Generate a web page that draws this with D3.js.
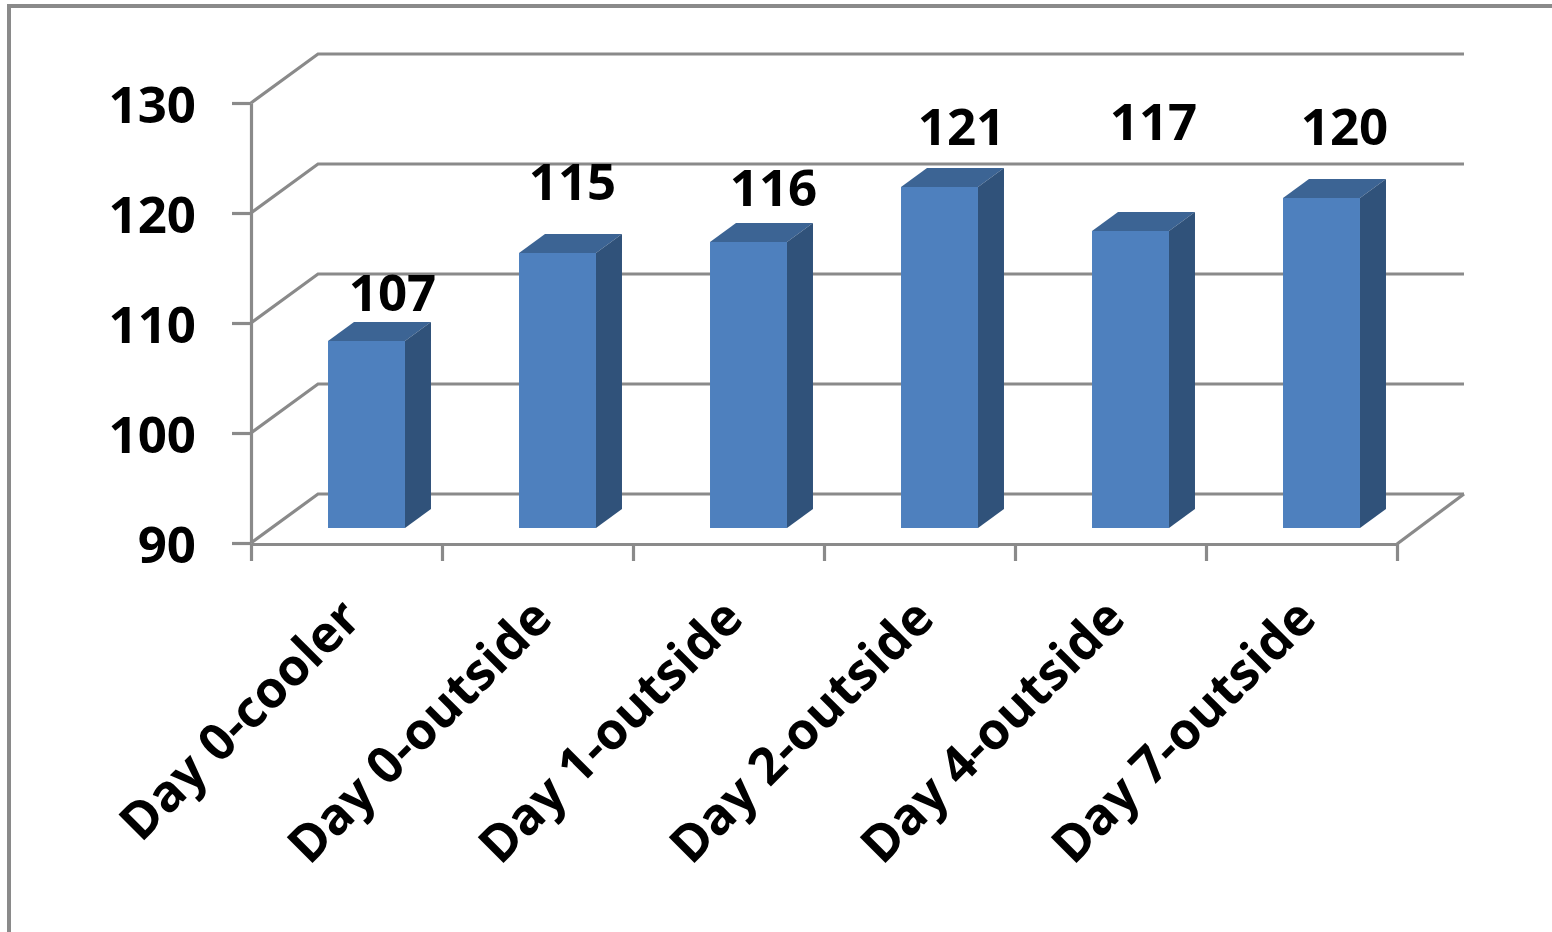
<!DOCTYPE html>
<html>
<head>
<meta charset="utf-8">
<script src="https://cdn.jsdelivr.net/npm/d3@7"></script>
<style>
    html, body { margin: 0; padding: 0; background: #fff; overflow: hidden; }
    text { font-family: "Open Sans", sans-serif; font-weight: 700; fill: #000; }
    .axis path, .axis line, .wall { stroke: #8a8a8a; stroke-width: 3.2; fill: none; }
</style>
</head>
<body>
<div id="chart"></div>
<script>
const categories = ["Day 0-cooler", "Day 0-outside", "Day 1-outside", "Day 2-outside", "Day 4-outside", "Day 7-outside"];
const values = [107, 115, 116, 121, 117, 120];
const yTicks = [90, 100, 110, 120, 130];
// hand placed data labels, offset from the top centre of each bar
const labelShift = [[26, -48], [15, -71], [25, -54], [22, -60], [23, -109], [23, -71]];

const width = 1552, height = 932;
const left = 251, right = 1397;
// how far the back wall sits behind the front plane
const depth = { x: 67, y: -49 };
// the bars stand partway into the floor
const barPlane = { x: 20, y: -15 };
const barDepth = { x: 26, y: -19 };

const svg = d3.select("#chart").append("svg")
    .attr("width", width)
    .attr("height", height);

svg.append("rect").attr("width", width).attr("height", height).attr("fill", "#fff");

// outer frame, open on the right and at the bottom
svg.append("path")
    .attr("class", "wall")
    .attr("d", `M 9 ${height} L 9 6 L ${width} 6`)
    .style("stroke-width", 4);

const x = d3.scaleBand().domain(categories).range([left, right]);
const xEdges = d3.scaleLinear().domain([0, categories.length]).range([left, right]);
const y = d3.scaleLinear().domain([90, 130]).range([543, 103]);

const barWidth = x.bandwidth() * 0.403;

// back wall gridlines with their slanted side returns
svg.append("g").selectAll("path")
    .data(yTicks)
    .join("path")
    .attr("class", "wall")
    .attr("d", (d) => `M ${left} ${y(d)} L ${left + depth.x} ${y(d) + depth.y} L ${right + depth.x} ${y(d) + depth.y}`);

// floor edge on the right
svg.append("path")
    .attr("class", "wall")
    .attr("d", `M ${right} ${y(90) + 1} L ${right + depth.x} ${y(90) + depth.y}`);

const yAxis = svg.append("g")
    .attr("class", "axis")
    .attr("transform", `translate(${left},0)`)
    .call(d3.axisLeft(y).tickValues(yTicks).tickSize(19).tickSizeOuter(0).tickPadding(36));
yAxis.selectAll("text")
    .style("font-size", "51px")
    .attr("dy", "0.38em");

const xAxis = svg.append("g")
    .attr("class", "axis")
    .attr("transform", `translate(0,${y(90) + 1})`)
    .call(d3.axisBottom(xEdges).tickValues(d3.range(categories.length + 1)).tickSize(17).tickSizeOuter(0).tickFormat(""));

// category labels, rotated and ending just under each slot
svg.append("g").selectAll("text")
    .data(categories)
    .join("text")
    .attr("text-anchor", "end")
    .attr("transform", (d) => `translate(${x(d) + x.bandwidth() / 2 + 17},621) rotate(-45)`)
    .style("font-size", "51px")
    .text((d) => d);

const bars = svg.append("g").selectAll("g")
    .data(values)
    .join("g")
    .attr("transform", (d, i) => `translate(${x(categories[i]) + (x.bandwidth() - barWidth) / 2 + barPlane.x},${barPlane.y})`);

// top face
bars.append("path")
    .attr("fill", "#3c6494")
    .attr("d", (d) => `M 0 ${y(d)} L ${barDepth.x} ${y(d) + barDepth.y} L ${barWidth + barDepth.x} ${y(d) + barDepth.y} L ${barWidth} ${y(d)} Z`);

// side face
bars.append("path")
    .attr("fill", "#30527a")
    .attr("d", (d) => `M ${barWidth} ${y(d)} L ${barWidth + barDepth.x} ${y(d) + barDepth.y} L ${barWidth + barDepth.x} ${y(90) + barDepth.y} L ${barWidth} ${y(90)} Z`);

// front face
bars.append("rect")
    .attr("fill", "#4e80be")
    .attr("x", 0)
    .attr("y", (d) => y(d))
    .attr("width", barWidth)
    .attr("height", (d) => y(90) - y(d));

// data labels
svg.append("g").selectAll("text")
    .data(values)
    .join("text")
    .attr("text-anchor", "middle")
    .attr("x", (d, i) => x(categories[i]) + x.bandwidth() / 2 + barPlane.x + labelShift[i][0])
    .attr("y", (d, i) => y(d) + barPlane.y + labelShift[i][1] + 18)
    .style("font-size", "51px")
    .text((d) => d);
</script>
</body>
</html>
